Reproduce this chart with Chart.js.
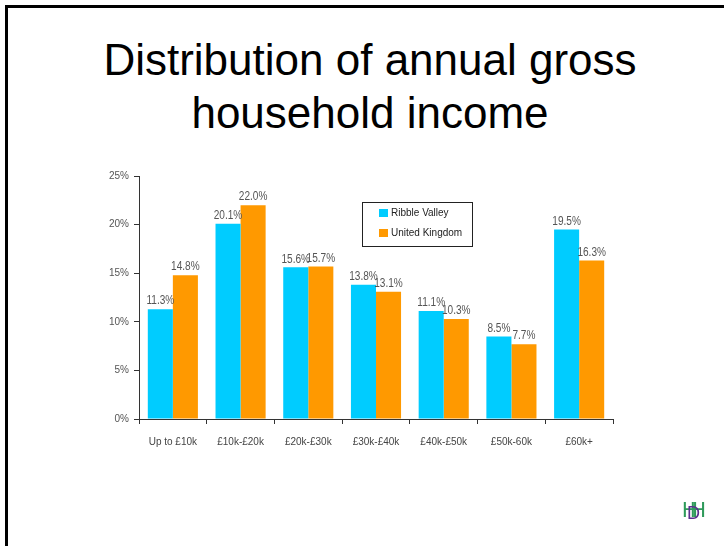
<!DOCTYPE html>
<html>
<head>
<meta charset="utf-8">
<script src="https://cdn.jsdelivr.net/npm/chart.js@4"></script>
<style>
  html, body { margin: 0; padding: 0; background: #fff; }
  #slide { position: relative; width: 724px; height: 546px; overflow: hidden; }
  #frame { position: absolute; left: 5px; top: 5px; width: 740px; height: 560px;
           border-left: 3px solid #000; border-top: 3px solid #000; }
  #title { position: absolute; left: 0; top: 33px; width: 740px; text-align: center;
           font-family: Arial, "Liberation Sans", sans-serif; font-size: 44px; line-height: 53px; color: #000; }
  #wrap { position: absolute; left: 0; top: 0; width: 724px; height: 546px; }
  #logo { position: absolute; left: 682px; top: 497px; width: 26px; height: 30px;
          font-family: Arial, "Liberation Sans", sans-serif; line-height: 26px; }
  #logo span { position: absolute; top: 0; }
</style>
</head>
<body>
<div id="slide">
  <div id="frame"></div>
  <div id="title">Distribution of annual gross<br>household income</div>
  <div id="wrap"><canvas id="chart"></canvas></div>
  <div id="logo">
    <span style="left:0;color:#2e9a5a;font-size:22px">H</span>
    <span style="left:8px;color:#2e9a5a;font-size:22px">H</span>
    <span style="left:5px;top:3px;color:#5b2d8e;font-size:18px">D</span>
  </div>
</div>
<script>
// Chart data
const categories = ['Up to £10k', '£10k-£20k', '£20k-£30k', '£30k-£40k', '£40k-£50k', '£50k-60k', '£60k+'];
const ribbleValley = [11.3, 20.1, 15.6, 13.8, 11.1, 8.5, 19.5];
const unitedKingdom = [14.8, 22.0, 15.7, 13.1, 10.3, 7.7, 16.3];
const seriesNames = ['Ribble Valley', 'United Kingdom'];
const seriesColors = ['#00CCFF', '#FF9900'];

const font = 'Arial, "Liberation Sans", sans-serif';

// value labels above each bar (slightly condensed, like the original)
const barLabels = {
    id: 'barLabels',
    afterDatasetsDraw(chart) {
        const c = chart.ctx;
        chart.data.datasets.forEach((ds, i) => {
            chart.getDatasetMeta(i).data.forEach((bar, j) => {
                c.save();
                c.translate(bar.x, bar.y - 2);
                c.scale(0.84, 1);
                c.font = '12px ' + font;
                c.fillStyle = '#555';
                c.textAlign = 'center';
                c.textBaseline = 'bottom';
                c.fillText(ds.data[j].toFixed(1) + '%', 0, 0);
                c.restore();
            });
        });
    }
};

// boxed legend inside the plot
const boxLegend = {
    id: 'boxLegend',
    afterDraw(chart) {
        const c = chart.ctx;
        const a = chart.chartArea;
        const x = a.left + 223, y = a.top + 26;
        c.save();
        c.fillStyle = '#fff';
        c.fillRect(x, y, 110, 44);
        c.strokeStyle = '#222';
        c.lineWidth = 1;
        c.strokeRect(x + 0.5, y + 0.5, 110, 44);
        c.font = '10px ' + font;
        c.textBaseline = 'middle';
        chart.data.datasets.forEach((ds, i) => {
            const cy = y + 11 + i * 20;
            c.fillStyle = ds.backgroundColor;
            c.fillRect(x + 17, cy - 4, 9, 8);
            c.fillStyle = '#222';
            c.fillText(ds.label, x + 29, cy);
        });
        c.restore();
    }
};

new Chart(document.getElementById('chart'), {
    type: 'bar',
    data: {
        labels: categories,
        datasets: [{
            label: seriesNames[0],
            data: ribbleValley,
            backgroundColor: seriesColors[0]
        }, {
            label: seriesNames[1],
            data: unitedKingdom,
            backgroundColor: seriesColors[1]
        }]
    },
    options: {
        responsive: true,
        maintainAspectRatio: false,
        animation: false,
        layout: { padding: { left: 99, top: 176, right: 111, bottom: 87 } },
        datasets: { bar: { categoryPercentage: 0.74, barPercentage: 1.0 } },
        scales: {
            x: {
                grid: { display: true, drawOnChartArea: false, offset: true, tickLength: 5, color: '#333' },
                border: { display: true, color: '#333', width: 1 },
                ticks: { font: { family: font, size: 10 }, color: '#444', padding: 12 },
                afterFit: s => { s.height = 40; }
            },
            y: {
                min: 0,
                max: 25,
                grid: { display: true, drawOnChartArea: false, tickLength: 5, color: '#333' },
                border: { display: true, color: '#333', width: 1 },
                ticks: { stepSize: 5, font: { family: font, size: 10 }, color: '#555', padding: 5,
                         callback: v => v + '%' },
                afterFit: s => { s.width = 40; }
            }
        },
        plugins: {
            legend: { display: false },
            tooltip: { enabled: false }
        }
    },
    plugins: [barLabels, boxLegend]
});
</script>
</body>
</html>
